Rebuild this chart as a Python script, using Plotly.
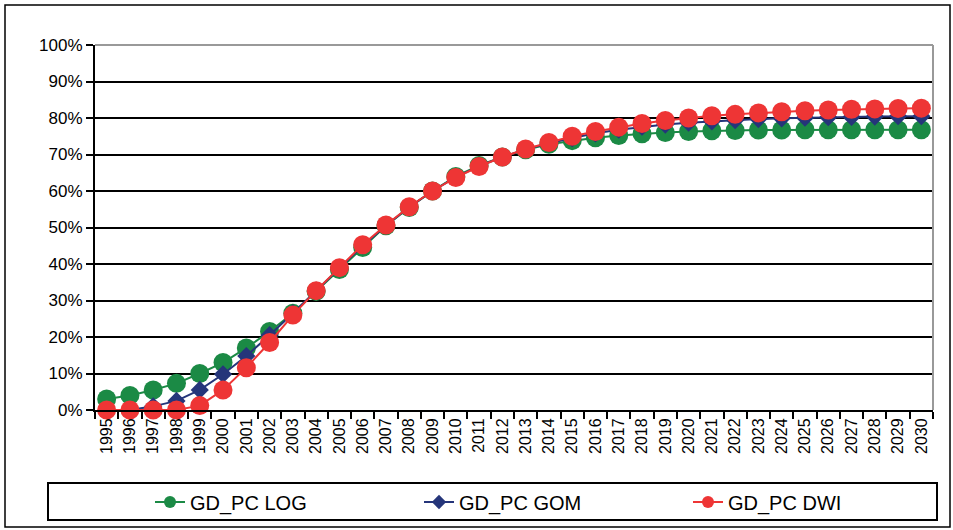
import plotly.graph_objects as go

years = [str(y) for y in range(1995, 2031)]

gd_pc_log = [0.030, 0.040, 0.055, 0.073, 0.100, 0.130, 0.170, 0.215, 0.265, 0.325,
             0.385, 0.445, 0.505, 0.555, 0.600, 0.640, 0.670, 0.693, 0.713, 0.728,
             0.738, 0.746, 0.752, 0.757, 0.760, 0.763, 0.765, 0.766, 0.767, 0.767,
             0.768, 0.768, 0.768, 0.768, 0.768, 0.768]

gd_pc_gom = [0.000, 0.000, 0.010, 0.025, 0.055, 0.098, 0.148, 0.205, 0.265, 0.327,
             0.388, 0.450, 0.505, 0.556, 0.600, 0.638, 0.668, 0.693, 0.714, 0.731,
             0.745, 0.758, 0.768, 0.776, 0.782, 0.787, 0.791, 0.794, 0.797, 0.799,
             0.801, 0.802, 0.803, 0.804, 0.805, 0.805]

gd_pc_dwi = [0.000, 0.000, 0.000, 0.000, 0.012, 0.055, 0.116, 0.185, 0.260, 0.327,
             0.390, 0.453, 0.507, 0.557, 0.600, 0.637, 0.667, 0.693, 0.715, 0.733,
             0.750, 0.763, 0.775, 0.785, 0.793, 0.800, 0.806, 0.810, 0.814, 0.817,
             0.820, 0.822, 0.824, 0.825, 0.826, 0.827]

series_names = ["GD_PC LOG", "GD_PC GOM", "GD_PC DWI"]

y_ticks = [i / 10 for i in range(11)]
y_labels = [f"{i*10}%" for i in range(11)]

GREEN = "#1B8A45"
NAVY = "#25357A"
RED = "#EE3535"

W, H = 953, 530
L, R, T, B = 95, 933, 45, 410

def px_x(p):
    return (p - L) / (R - L)

def px_y(p):
    return (B - p) / (B - T)

styles = [
    dict(color=GREEN, symbol="circle", size=19, lsize=12),
    dict(color=NAVY, symbol="diamond", size=14, lsize=11),
    dict(color=RED, symbol="circle", size=19, lsize=12),
]

fig = go.Figure()
for name, vals, st in zip(series_names, [gd_pc_log, gd_pc_gom, gd_pc_dwi], styles):
    fig.add_trace(go.Scatter(x=years, y=vals, name=name, mode="lines+markers",
                             line=dict(color=st["color"], width=2),
                             marker=dict(symbol=st["symbol"], size=st["size"], color=st["color"]),
                             cliponaxis=False, showlegend=False))
# legend entries with smaller symbols
for name, st in zip(series_names, styles):
    fig.add_trace(go.Scatter(x=[None], y=[None], name=name, mode="lines+markers",
                             line=dict(color=st["color"], width=2),
                             marker=dict(symbol=st["symbol"], size=st["lsize"], color=st["color"]),
                             showlegend=True))

shapes = [
    dict(type="rect", xref="paper", yref="paper",
         x0=px_x(5), x1=px_x(950), y0=px_y(527), y1=px_y(5),
         line=dict(color="black", width=1.5), layer="below"),
    dict(type="rect", xref="paper", yref="paper",
         x0=px_x(48), x1=px_x(937), y0=px_y(520), y1=px_y(483),
         line=dict(color="black", width=2), layer="below"),
    dict(type="line", xref="paper", yref="paper", x0=0, x1=1, y0=1, y1=1,
         line=dict(color="#999999", width=2), layer="above"),
    dict(type="line", xref="paper", yref="paper", x0=1, x1=1, y0=0, y1=1,
         line=dict(color="#999999", width=2), layer="above"),
]

fig.update_layout(
    width=W, height=H,
    margin=dict(l=L, r=W - R, t=T, b=H - B, autoexpand=False),
    paper_bgcolor="white", plot_bgcolor="white",
    font=dict(family="Liberation Sans, Arial, sans-serif", color="black"),
    showlegend=True,
    legend=dict(orientation="h", x=px_x(150), xanchor="left",
                y=px_y(502), yanchor="middle",
                font=dict(size=20), entrywidth=224, entrywidthmode="pixels",
                bgcolor="rgba(0,0,0,0)", itemclick=False, itemdoubleclick=False),
    shapes=shapes,
    xaxis=dict(type="category", categoryorder="array", categoryarray=years,
               range=[-0.5, len(years) - 0.5],
               tickangle=-90, tickfont=dict(size=16),
               ticks="outside", tickson="boundaries", ticklen=7,
               tickcolor="black", tickwidth=1.5,
               showline=True, linecolor="black", linewidth=2,
               showgrid=False, zeroline=False, fixedrange=True, automargin=False),
    yaxis=dict(range=[0, 1], tickvals=y_ticks, ticktext=y_labels,
               tickfont=dict(size=17), ticks="outside", ticklen=7,
               tickcolor="black", tickwidth=1.5,
               showline=True, linecolor="black", linewidth=2,
               showgrid=True, gridcolor="black", gridwidth=2,
               zeroline=False, fixedrange=True, automargin=False),
)

fig.write_html("out.html", config={"displayModeBar": False},
               post_script="document.body.style.margin='0px';")
